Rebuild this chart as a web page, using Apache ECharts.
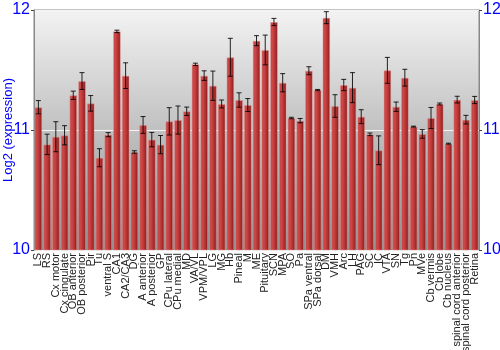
<!DOCTYPE html>
<html><head><meta charset="utf-8">
<script src="https://cdn.jsdelivr.net/npm/echarts@6/dist/echarts.min.js"></script>
<style>html,body{margin:0;padding:0;background:#fff}#c{width:500px;height:350px}</style>
</head><body><div id="c"></div>
<script>
const categories = ["LS","RS","Cx motor","Cx cingulate","OB anterior","OB posterior","Pir","Tu","ventral S","CA1","CA2/CA3","DG","A anterior","A posterior","GP","CPu lateral","CPu medial","MD","VA/VL","VPM/VPL","LG","MG","Hb","Pineal","M","ME","Pituitary","SCN","MPA","SO","Pa","SPa ventral","SPa dorsal","DM","VMH","Arc","LH","PAG","SC","IC","VTA","SN","Tg","Pn","MVe","Cb vermis","Cb lobe","Cb nucleus","spinal cord anterior","spinal cord posterior","Retina"];
const values = [11.19,10.88,10.944,10.956,11.289,11.408,11.222,10.769,10.961,11.822,11.453,10.817,11.042,10.92,10.878,11.072,11.083,11.156,11.547,11.453,11.369,11.217,11.606,11.25,11.208,11.744,11.667,11.9,11.394,11.1,11.078,11.494,11.333,11.936,11.2,11.375,11.353,11.111,10.964,10.831,11.497,11.194,11.436,11.028,10.967,11.1,11.217,10.886,11.253,11.086,11.25];
const errors = [0.055,0.085,0.125,0.08,0.035,0.07,0.065,0.075,0.017,0.01,0.107,0.01,0.07,0.06,0.076,0.114,0.117,0.035,0.01,0.04,0.122,0.033,0.158,0.06,0.054,0.042,0.124,0.03,0.076,0.006,0.018,0.033,0.005,0.05,0.094,0.047,0.125,0.058,0.011,0.12,0.108,0.039,0.07,0.004,0.036,0.088,0.008,0.004,0.028,0.036,0.03];
const yTicks = [10, 11, 12];

const chart = echarts.init(document.getElementById('c'), null, {renderer:'canvas'});
const errData = values.map((v,i)=>[i, v - errors[i], v + errors[i]]);
const axisLabelStyle = {color:'#0000ff', fontSize:16, fontFamily:'Liberation Sans, Arial, sans-serif'};
chart.setOption({
  animation:false,
  grid:{left:34, right:21, top:10, bottom:100, containLabel:false, outerBoundsMode:'none', show:true, borderColor:'#888', borderWidth:1,
    backgroundColor:new echarts.graphic.LinearGradient(0,0,0,1,[{offset:0,color:'#f3f3f3'},{offset:1,color:'#8e8e8e'}])},
  xAxis:{type:'category', data:categories, axisTick:{show:false}, axisLine:{show:false},
    axisLabel:{interval:0, rotate:90, fontSize:11, color:'#222', fontFamily:'Liberation Sans, Arial, sans-serif', margin:3}},
  yAxis:[
    {type:'value', min:10, max:12, interval:1, position:'left', name:'Log2 (expression)', nameLocation:'middle', nameGap:19, nameMoveOverlap:false,
      nameTextStyle:{color:'#0000ff', fontSize:13, fontFamily:'Liberation Sans, Arial, sans-serif'},
      axisLine:{show:true, lineStyle:{color:'#888'}}, axisTick:{show:true, length:3, lineStyle:{color:'#444'}},
      axisLabel:Object.assign({margin:4, formatter:v=>yTicks.includes(v)?String(v):''}, axisLabelStyle),
      splitLine:{show:true, lineStyle:{color:'#f4f4f4', width:1}}},
    {type:'value', min:10, max:12, interval:1, position:'right',
      axisLine:{show:true, lineStyle:{color:'#888'}}, axisTick:{show:true, length:3, lineStyle:{color:'#444'}},
      axisLabel:Object.assign({margin:4, formatter:v=>yTicks.includes(v)?String(v):''}, axisLabelStyle),
      splitLine:{show:false}}
  ],
  series:[
    {type:'bar', data:values, barCategoryGap:'12%',
      itemStyle:{color:new echarts.graphic.LinearGradient(0,0,1,0,[
        {offset:0,color:'#c24848'},{offset:0.35,color:'#cf4545'},{offset:0.75,color:'#a82a2a'},{offset:1,color:'#6e1414'}]),
        borderColor:'rgba(230,150,150,0.45)', borderWidth:1}},
    {type:'custom', data:errData, z:10,
      renderItem:function(params, api){
        const x = api.value(0);
        const lo = api.coord([x, api.value(1)]);
        const hi = api.coord([x, api.value(2)]);
        const hw = 2.5;
        const st = {stroke:'rgba(0,0,0,0.85)', lineWidth:1};
        return {type:'group', children:[
          {type:'line', shape:{x1:lo[0], y1:lo[1], x2:hi[0], y2:hi[1]}, style:st},
          {type:'line', shape:{x1:lo[0]-hw, y1:lo[1], x2:lo[0]+hw, y2:lo[1]}, style:st},
          {type:'line', shape:{x1:hi[0]-hw, y1:hi[1], x2:hi[0]+hw, y2:hi[1]}, style:st}
        ]};
      }}
  ]
});
</script></body></html>
